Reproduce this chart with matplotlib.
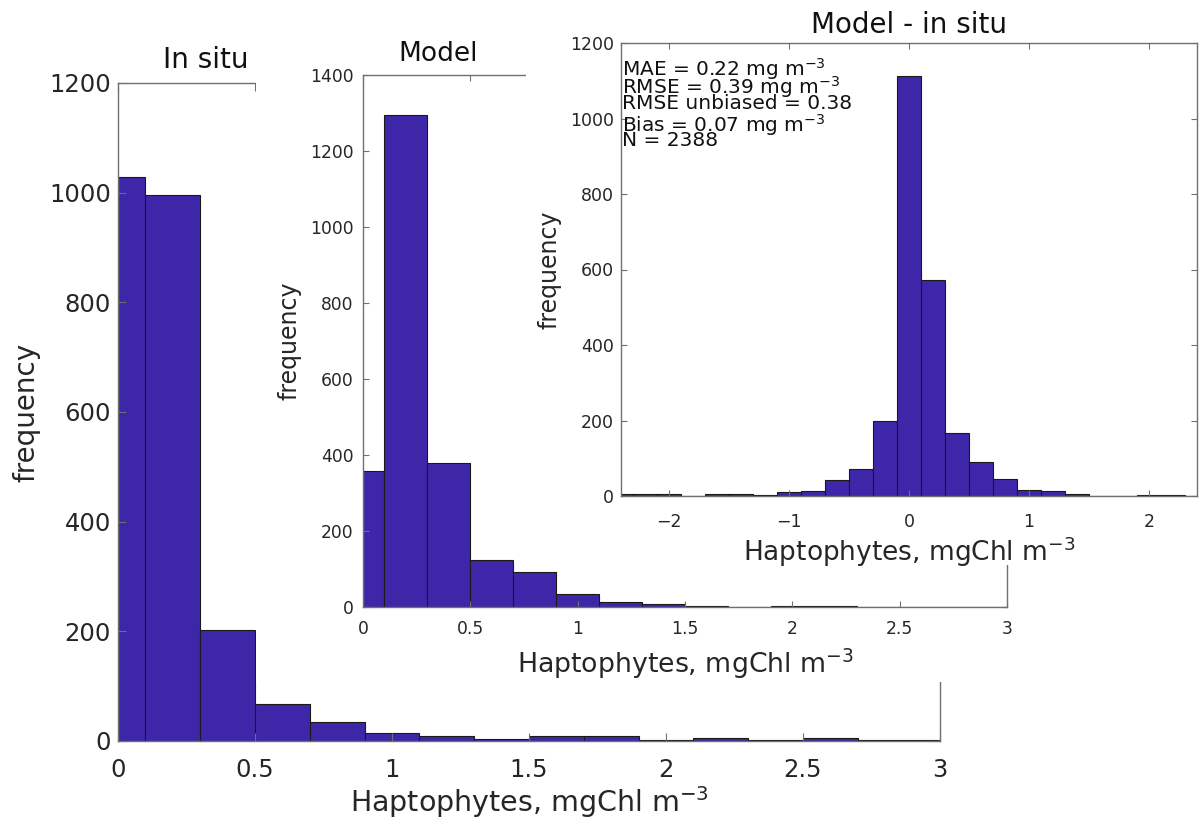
import matplotlib
matplotlib.use("Agg")
import matplotlib.pyplot as plt

# bin centres (MATLAB hist style, width 0.2)
insitu_centers = [0.0, 0.2, 0.4, 0.6, 0.8, 1.0, 1.2, 1.4, 1.6, 1.8, 2.0, 2.2, 2.4, 2.6, 2.8, 3.0]
insitu_counts = [1029, 995, 202, 68, 34, 14, 9, 3, 9, 9, 2, 5, 1, 5, 1, 2]

model_centers = [0.0, 0.2, 0.4, 0.6, 0.8, 1.0, 1.2, 1.4, 1.6, 1.8, 2.0, 2.2, 2.4, 2.6, 2.8, 3.0]
model_counts = [359, 1294, 380, 125, 93, 35, 14, 7, 2, 0, 2, 2, 0, 0, 0, 0]

diff_centers = [-2.4, -2.2, -2.0, -1.8, -1.6, -1.4, -1.2, -1.0, -0.8, -0.6, -0.4, -0.2, 0.0,
                0.2, 0.4, 0.6, 0.8, 1.0, 1.2, 1.4, 1.6, 1.8, 2.0, 2.2, 2.4]
diff_counts = [6, 4, 6, 1, 5, 5, 3, 11, 13, 42, 72, 200, 1112,
               572, 167, 91, 45, 15, 13, 5, 1, 1, 3, 3, 1]

stats_lines = ['MAE = 0.22 mg m$^{-3}$', 'RMSE = 0.39 mg m$^{-3}$', 'RMSE unbiased = 0.38',
               'Bias = 0.07 mg m$^{-3}$', 'N = 2388']
stats_y = [1130, 1082, 1040, 982, 942]

xlabel = 'Haptophytes, mgChl m$^{-3}$'
bar_color = '#3e26a8'
edge_color = '#1a1a1a'
spine_color = '#707070'
text_color = '#262626'

W, H = 1203, 827


def px(l, t, r, b):
    return [l / W, 1 - b / H, (r - l) / W, (b - t) / H]


def cover(rect):
    c = fig.add_axes(px(*rect))
    c.set_xticks([])
    c.set_yticks([])
    for s in c.spines.values():
        s.set_visible(False)
    c.set_facecolor('white')
    return c


def style(ax, tick_size, tick_len, xpad, ypad):
    for s in ax.spines.values():
        s.set_color(spine_color)
        s.set_linewidth(1.0)
    ax.tick_params(direction='in', top=True, right=True, length=tick_len,
                   width=0.8, color=spine_color, labelsize=tick_size, labelcolor=text_color)
    ax.tick_params(axis='x', pad=xpad)
    ax.tick_params(axis='y', pad=ypad)


fig = plt.figure(figsize=(12.03, 8.27), dpi=100)

# In situ
ax1 = fig.add_axes(px(118, 83, 940, 741))
ax1.bar(insitu_centers, insitu_counts, width=0.2, color=bar_color, edgecolor=edge_color, linewidth=0.8)
ax1.set_xlim(0, 3)
ax1.set_ylim(0, 1200)
ax1.set_xticks([0, 0.5, 1, 1.5, 2, 2.5, 3])
ax1.set_xticklabels(['0', '0.5', '1', '1.5', '2', '2.5', '3'])
ax1.set_yticks(range(0, 1201, 200))
style(ax1, 17.5, 6, 12, 5)
ax1.set_xlabel(xlabel, fontsize=20.5, color=text_color, labelpad=2)
ax1.set_ylabel('frequency', fontsize=20, color=text_color, labelpad=6)
ax1.text(0.107, 1.035, 'In situ', transform=ax1.transAxes, ha='center', va='center',
         fontsize=20, color='#111111')

cover((256, 30, 1203, 682))

# Model
ax2 = fig.add_axes(px(363, 75, 1007, 607))
ax2.bar(model_centers, model_counts, width=0.2, color=bar_color, edgecolor=edge_color, linewidth=0.8)
ax2.set_xlim(0, 3)
ax2.set_ylim(0, 1400)
ax2.set_xticks([0, 0.5, 1, 1.5, 2, 2.5, 3])
ax2.set_xticklabels(['0', '0.5', '1', '1.5', '2', '2.5', '3'])
ax2.set_yticks(range(0, 1401, 200))
style(ax2, 12.3, 4, 9.5, 7)
ax2.set_xlabel(xlabel, fontsize=19.3, color=text_color, labelpad=6)
ax2.set_ylabel('frequency', fontsize=17, color=text_color, labelpad=6)
ax2.text(0.1165, 1.04, 'Model', transform=ax2.transAxes, ha='center', va='center',
         fontsize=19, color='#111111')

cover((526, 0, 1203, 565))

# Model - in situ
ax3 = fig.add_axes(px(621, 43, 1197, 496))
ax3.bar(diff_centers, diff_counts, width=0.2, color=bar_color, edgecolor=edge_color, linewidth=0.8)
ax3.set_xlim(-2.4, 2.4)
ax3.set_ylim(0, 1200)
ax3.set_xticks([-2, -1, 0, 1, 2])
ax3.set_yticks(range(0, 1201, 200))
style(ax3, 12.5, 4, 12, 5)
ax3.set_xlabel(xlabel, fontsize=19, color=text_color, labelpad=3)
ax3.set_ylabel('frequency', fontsize=17, color=text_color, labelpad=6)
ax3.set_title('Model - in situ', fontsize=20, color='#111111', pad=7)
for line, y in zip(stats_lines, stats_y):
    ax3.text(-2.39, y, line, ha='left', va='center', fontsize=14.5, color='#111111')

fig.savefig('out.png', dpi=100)
